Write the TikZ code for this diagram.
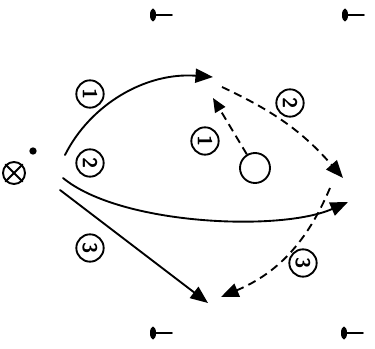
\documentclass[tikz,border=0pt]{standalone}
\usetikzlibrary{arrows.meta,positioning}
\tikzset{
  every picture/.style={
    line join=round,
    line cap=round,
  },
  run/.style={line width=1.6pt, -{Triangle[length=15pt,width=12pt]}},
  pass/.style={run, dash pattern=on 7pt off 4.5pt, line cap=butt},
  shortpass/.style={pass, -{Triangle[length=12pt,width=10pt]}},
  num/.style={circle, draw, line width=1.6pt, inner sep=0pt, minimum size=0.82cm,
    font=\sffamily\bfseries\LARGE, rotate=-90},
}
\begin{document}
\begin{tikzpicture}[x=0.03cm, y=-0.03cm]
    \useasboundingbox (0,0) rectangle (375,349);

    % Cones (dot with a short bar)
    \foreach \x/\y [count=\i] in {153/15, 345/15, 153/333, 344/333} {
        \fill (\x,\y) ellipse (3 and 6.5);
        \draw[line width=1.5pt] (\x,\y) -- ++(19,0) coordinate (cone\i);
    }

    % Coach with ball
    \node[circle, draw, line width=1.6pt, minimum size=0.66cm] (coach) at (14,173) {};
    \draw[line width=1.6pt] (coach.north west) -- (coach.south east);
    \draw[line width=1.6pt] (coach.north east) -- (coach.south west);
    \node[circle, fill, inner sep=0pt, minimum size=0.22cm] (ball) at (33,151) {};

    % Player
    \node[circle, draw, line width=1.6pt, minimum size=0.9cm] (player) at (255,168) {};

    % End points of the runs
    \coordinate (runAs) at (65,155);
    \coordinate (runAe) at (213,77);
    \coordinate (runBs) at (63,178);
    \coordinate (runBe) at (348,202);
    \coordinate (runCs) at (60,190);
    \coordinate (runCe) at (208,303);
    \coordinate (passAe) at (213,98);
    \coordinate (passBs) at (222,87);
    \coordinate (passBe) at (343,178);
    \coordinate (passCs) at (330,188);
    \coordinate (passCe) at (221,297);

    % Runs
    \draw[run] (runAs) .. controls (90,105) and (145,72) .. (runAe);
    \draw[run] (runBs) .. controls (120,225) and (280,232) .. (runBe);
    \draw[run] (runCs) -- (runCe);

    % Passes
    \draw[shortpass] (player) -- (passAe);
    \draw[pass] (passBs) to[bend left=12] (passBe);
    \draw[pass] (passCs) to[bend left=22] (passCe);

    % Order labels
    \node[num] (labA) at (90,94) {1};
    \node[num] (labB) at (90,163) {2};
    \node[num] (labC) at (90,248) {3};
    \node[num] (labD) at (205,141) {1};
    \node[num] (labE) at (290,103) {2};
    \node[num] (labF) at (303,263) {3};
\end{tikzpicture}
\end{document}
